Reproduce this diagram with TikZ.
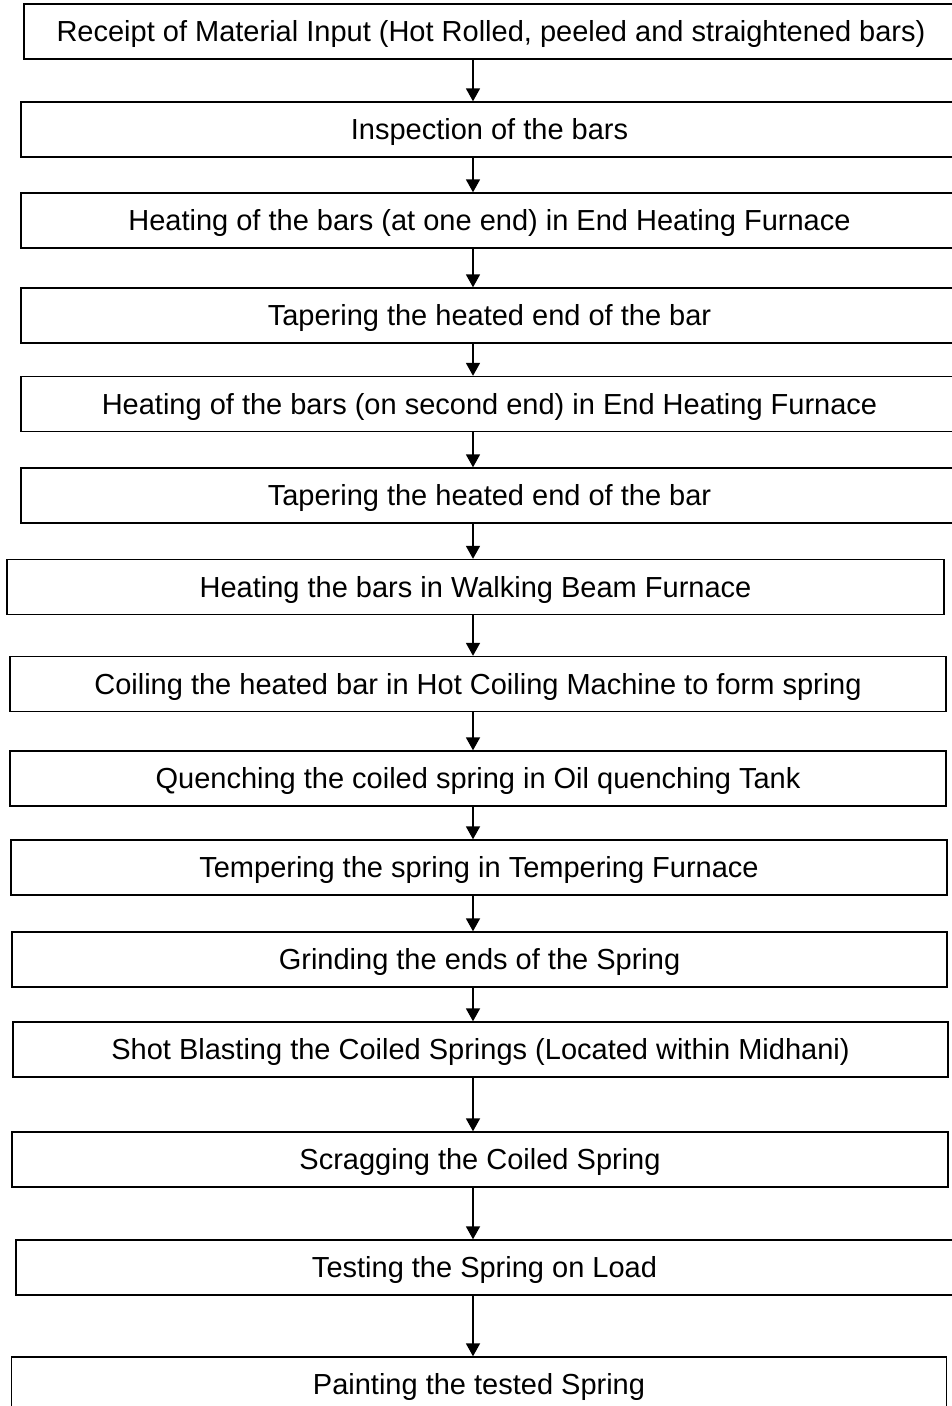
\documentclass[tikz,border=0pt]{standalone}
\usepackage{fontspec}
\setmainfont{Liberation Sans}
\usetikzlibrary{calc,positioning,arrows.meta,shapes}

\begin{document}
\begin{tikzpicture}[
    x=1pt, y=-1pt, font=\fontsize{29}{33}\selectfont,
    stage/.style={draw, line width=1.4pt, rectangle, inner sep=0pt,
      text height=20.8pt, text depth=0pt,
      minimum width=936pt, minimum height=55pt},
    flow/.style={line width=1.8pt, -{Triangle[length=13pt,width=14pt]}}]

    \useasboundingbox (0,0) rectangle (951,1406);

    % vertices

    \node[stage, minimum width=934pt] (1) at (491,31.5) {Receipt of Material Input (Hot Rolled, peeled and straightened bars)};
    \node[stage, minimum width=937pt] (2) at (489.5,129.5) {Inspection of the bars};
    \node[stage, minimum width=937pt] (3) at (489.5,220.5) {Heating of the bars (at one end) in End Heating Furnace};
    \node[stage, minimum width=937pt] (4) at (489.5,315.5) {Tapering the heated end of the bar};
    \node[stage, minimum width=937pt] (5) at (489.5,404) {Heating of the bars (on second end) in End Heating Furnace};
    \node[stage, minimum width=937pt] (6) at (489.5,495.5) {Tapering the heated end of the bar};
    \node[stage, minimum width=937pt] (7) at (475.5,587) {Heating the bars in Walking Beam Furnace};
    \node[stage] (8) at (478,684) {Coiling the heated bar in Hot Coiling Machine to form spring};
    \node[stage] (9) at (478,778.5) {Quenching the coiled spring in Oil quenching Tank};
    \node[stage] (10) at (479,867.5) {Tempering the spring in Tempering Furnace};
    \node[stage, minimum width=935pt] (11) at (479.5,959.5) {Grinding the ends of the Spring};
    \node[stage, minimum width=935pt] (12) at (480.5,1049.5) {Shot Blasting the Coiled Springs (Located within Midhani)};
    \node[stage] (13) at (480,1159.5) {Scragging the Coiled Spring};
    \node[stage, minimum width=937pt] (14) at (484.5,1267.5) {Testing the Spring on Load};
    \node[stage, minimum width=935pt] (15) at (479,1384.5) {Painting the tested Spring};

    \coordinate (ax) at (473,0);

    % edges

    \draw[flow] (1.south -| ax) -- (2.north -| ax);
    \draw[flow] (2.south -| ax) -- (3.north -| ax);
    \draw[flow] (3.south -| ax) -- (4.north -| ax);
    \draw[flow] (4.south -| ax) -- (5.north -| ax);
    \draw[flow] (5.south -| ax) -- (6.north -| ax);
    \draw[flow] (6.south -| ax) -- (7.north -| ax);
    \draw[flow] (7.south -| ax) -- (8.north -| ax);
    \draw[flow] (8.south -| ax) -- (9.north -| ax);
    \draw[flow] (9.south -| ax) -- (10.north -| ax);
    \draw[flow] (10.south -| ax) -- (11.north -| ax);
    \draw[flow] (11.south -| ax) -- (12.north -| ax);
    \draw[flow] (12.south -| ax) -- (13.north -| ax);
    \draw[flow] (13.south -| ax) -- (14.north -| ax);
    \draw[flow] (14.south -| ax) -- (15.north -| ax);
  \end{tikzpicture}
\end{document}
